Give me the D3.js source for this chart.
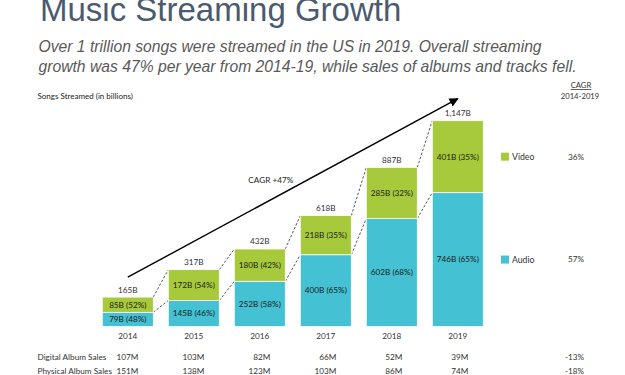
<!DOCTYPE html>
<html>
<head>
<meta charset="utf-8">
<script src="https://cdn.jsdelivr.net/npm/d3@7"></script>
<style>
body { margin: 0; background: #fff; }
svg { display: block; }
</style>
</head>
<body>
<script>
const years = ["2014", "2015", "2016", "2017", "2018", "2019"];
const audio = [79, 145, 252, 400, 602, 746];
const video = [85, 172, 180, 218, 285, 401];
const totals = [165, 317, 432, 618, 887, 1147];
const audioPct = [48, 46, 58, 65, 68, 65];
const videoPct = [52, 54, 42, 35, 32, 35];
const digitalSales = ["107M", "103M", "82M", "66M", "52M", "39M"];
const physicalSales = ["151M", "138M", "123M", "103M", "86M", "74M"];
const seriesNames = ["Video", "Audio"];
const seriesCagr = ["36%", "57%"];
const salesNames = ["Digital Album Sales", "Physical Album Sales"];
const salesCagr = ["-13%", "-18%"];
const cagrTotal = "CAGR +47%";

window.onload = function(){
const W = 625, H = 375;
const small = "Lato, 'Noto Sans', sans-serif";
const green = "#a7ca3c", teal = "#44c1d2";

let svg = d3.select("body").append("svg")
	.attr("width", W)
	.attr("height", H);

// title + subtitle
svg.append("text")
	.attr("x", 40).attr("y", 21)
	.attr("font-family", "'Liberation Sans', Arial, sans-serif")
	.attr("font-size", 33)
	.attr("fill", "#4b5a6e")
	.text("Music Streaming Growth");

let sub = svg.append("text")
	.attr("font-family", "'Liberation Sans', Arial, sans-serif")
	.attr("font-style", "italic")
	.attr("font-size", 15.7)
	.attr("fill", "#595959");
sub.append("tspan").attr("x", 38.5).attr("y", 51.5)
	.text("Over 1 trillion songs were streamed in the US in 2019. Overall streaming");
sub.append("tspan").attr("x", 38.5).attr("y", 71.5)
	.text("growth was 47% per year from 2014-19, while sales of albums and tracks fell.");

svg.append("text")
	.attr("x", 37.5).attr("y", 99)
	.attr("font-family", small).attr("font-size", 8).attr("fill", "#222")
	.text("Songs Streamed (in billions)");

let x = d3.scaleBand()
	.domain(years)
	.range([94.8, 490.8])
	.paddingInner(15 / 66)
	.paddingOuter(7.5 / 66);
let y = d3.scaleLinear()
	.domain([0, 1147])
	.range([326.5, 120.7]);
let bw = x.bandwidth();

let rows = years.map(function(yr, i){
	return { year: yr, audio: audio[i], video: video[i], total: totals[i],
		ap: audioPct[i], vp: videoPct[i] };
});

// dashed connectors between bars
let g = svg.append("g");
for (let i = 0; i < rows.length - 1; i++) {
	let a = rows[i], b = rows[i + 1];
	[[a.audio + a.video, b.audio + b.video], [a.audio, b.audio]].forEach(function(p){
		g.append("line")
			.attr("x1", x(a.year) + bw).attr("y1", y(p[0]))
			.attr("x2", x(b.year)).attr("y2", y(p[1]))
			.attr("stroke", "#444")
			.attr("stroke-width", 0.9)
			.attr("stroke-dasharray", "2.5,1.8");
	});
}

// bars
let bars = svg.append("g").selectAll("g")
	.data(rows).enter().append("g");

bars.append("rect")
	.attr("x", d => x(d.year))
	.attr("y", d => y(d.audio))
	.attr("width", bw)
	.attr("height", d => y(0) - y(d.audio))
	.attr("fill", teal)
	.attr("stroke", "#fff").attr("stroke-width", 0.8);

bars.append("rect")
	.attr("x", d => x(d.year))
	.attr("y", d => y(d.audio + d.video))
	.attr("width", bw)
	.attr("height", d => y(d.audio) - y(d.audio + d.video))
	.attr("fill", green)
	.attr("stroke", "#fff").attr("stroke-width", 0.8);

bars.append("text")
	.attr("x", d => x(d.year) + bw / 2)
	.attr("y", d => (y(0) + y(d.audio)) / 2)
	.attr("dy", "0.35em")
	.attr("text-anchor", "middle")
	.attr("font-family", small).attr("font-size", 8.2).attr("fill", "#1a1a1a")
	.text(d => d.audio + "B (" + d.ap + "%)");

bars.append("text")
	.attr("x", d => x(d.year) + bw / 2)
	.attr("y", d => (y(d.audio) + y(d.audio + d.video)) / 2)
	.attr("dy", "0.35em")
	.attr("text-anchor", "middle")
	.attr("font-family", small).attr("font-size", 8.2).attr("fill", "#1a1a1a")
	.text(d => d.video + "B (" + d.vp + "%)");

bars.append("text")
	.attr("x", d => x(d.year) + bw / 2)
	.attr("y", d => y(d.audio + d.video) - 4.5)
	.attr("text-anchor", "middle")
	.attr("font-family", small).attr("font-size", 8.2).attr("fill", "#333")
	.text(d => d3.format(",")(d.total) + "B");

bars.append("text")
	.attr("x", d => x(d.year) + bw / 2)
	.attr("y", 338.8)
	.attr("text-anchor", "middle")
	.attr("font-family", small).attr("font-size", 8.2).attr("fill", "#333")
	.text(d => d.year);

// CAGR arrow
svg.append("defs").append("marker")
	.attr("id", "arr")
	.attr("viewBox", "0 0 10 10")
	.attr("refX", 9).attr("refY", 5)
	.attr("markerWidth", 6.5).attr("markerHeight", 6.5)
	.attr("orient", "auto")
	.append("path").attr("d", "M0,0 L10,5 L0,10 Z").attr("fill", "#000");

let ax1 = x(years[0]) + bw / 2, ay1 = y(275);
let ax2 = x(years[years.length - 1]) + bw / 2, ay2 = y(1270);
svg.append("line")
	.attr("x1", ax1).attr("y1", ay1)
	.attr("x2", ax2).attr("y2", ay2)
	.attr("stroke", "#000").attr("stroke-width", 1.4)
	.attr("marker-end", "url(#arr)");
svg.append("text")
	.attr("x", (ax1 + ax2) / 2 - 22).attr("y", (ay1 + ay2) / 2 - 5)
	.attr("text-anchor", "middle")
	.attr("font-family", small).attr("font-size", 8.2).attr("fill", "#222")
	.text(cagrTotal);

// legend + CAGR column
let last = rows[rows.length - 1];
let legY = [(y(last.audio) + y(last.audio + last.video)) / 2, (y(0) + y(last.audio)) / 2];
let legC = [green, teal];
seriesNames.forEach(function(n, i){
	svg.append("rect")
		.attr("x", 501).attr("y", legY[i] - 4)
		.attr("width", 8).attr("height", 8)
		.attr("fill", legC[i]);
	svg.append("text")
		.attr("x", 512).attr("y", legY[i]).attr("dy", "0.35em")
		.attr("font-family", small).attr("font-size", 8.7).attr("fill", "#333")
		.text(n);
	svg.append("text")
		.attr("x", 584).attr("y", legY[i]).attr("dy", "0.35em")
		.attr("text-anchor", "end")
		.attr("font-family", small).attr("font-size", 8.2).attr("fill", "#333")
		.text(seriesCagr[i]);
});

svg.append("text")
	.attr("x", 581).attr("y", 88)
	.attr("text-anchor", "middle")
	.attr("text-decoration", "underline")
	.attr("font-family", small).attr("font-size", 7.7).attr("fill", "#333")
	.text("CAGR");
svg.append("text")
	.attr("x", 580).attr("y", 98.5)
	.attr("text-anchor", "middle")
	.attr("font-family", small).attr("font-size", 7.7).attr("fill", "#333")
	.text("2014-2019");

// album sales rows
let salesVals = [digitalSales, physicalSales];
let rowY = [359.5, 373.5];
salesNames.forEach(function(n, i){
	svg.append("text")
		.attr("x", 37.5).attr("y", rowY[i])
		.attr("font-family", small).attr("font-size", 8.2).attr("fill", "#333")
		.text(n);
	years.forEach(function(yr, j){
		svg.append("text")
			.attr("x", x(yr) + bw / 2 + 10.5).attr("y", rowY[i])
			.attr("text-anchor", "end")
			.attr("font-family", small).attr("font-size", 8.2).attr("fill", "#333")
			.text(salesVals[i][j]);
	});
	svg.append("text")
		.attr("x", 584).attr("y", rowY[i])
		.attr("text-anchor", "end")
		.attr("font-family", small).attr("font-size", 8.2).attr("fill", "#333")
		.text(salesCagr[i]);
});
};
</script>
</body>
</html>
